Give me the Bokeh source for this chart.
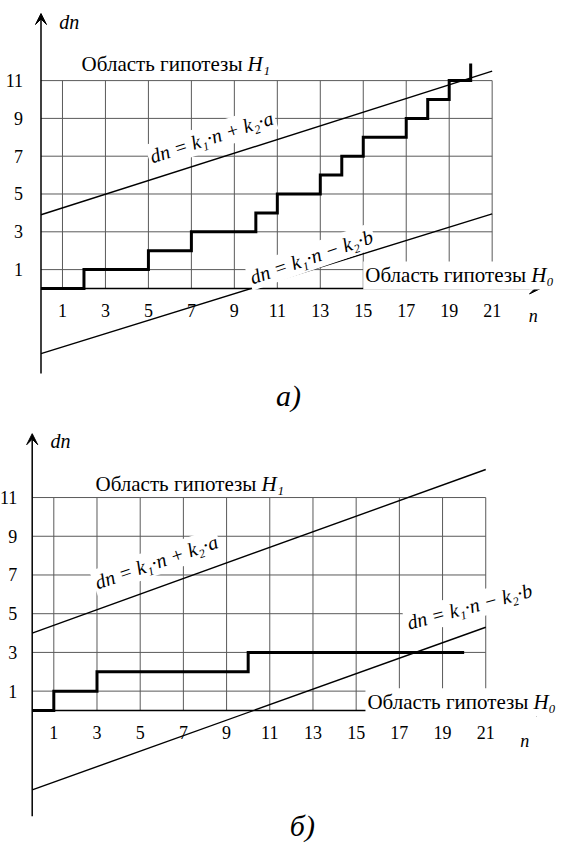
from bokeh.plotting import figure
from bokeh.models import Range1d, Label, Arrow, VeeHead
from bokeh.layouts import column
from bokeh.embed import file_html
from bokeh.resources import INLINE

# ---------------- data ----------------
n_ticks = [1, 3, 5, 7, 9, 11, 13, 15, 17, 19, 21]
dn_ticks = [1, 3, 5, 7, 9, 11]
grid_n_max = 21
grid_dn_max = 11

bound_n = [0, 21]

# chart a)
a_step_n = [0, 2, 5, 7, 10, 11, 13, 14, 15, 17, 18, 19, 20]
a_step_dn = [0, 1, 2, 3, 4, 5, 6, 7, 8, 9, 10, 11, 11.9]
a_upper_dn = [3.9, 11.5]
a_lower_dn = [-3.45, 3.95]

# chart б)
b_step_n = [0, 1, 3, 10, 20]
b_step_dn = [0, 1, 2, 3, 3]
b_upper_dn = [4.0, 12.45]
b_lower_dn = [-4.1, 4.3]

REGION_TEXT = "Область гипотезы"
H1_TEXT = "H\u2081"
H0_TEXT = "H\u2080"
UP_TEXT = "dn = k\u2081\u00b7n + k\u2082\u00b7a"
LO_TEXT = "dn = k\u2081\u00b7n \u2212 k\u2082\u00b7b"

SERIF = "Liberation Serif"
GRID = "#5a5a5a"
W = 563
H_OFFSET_PX = 166   # gap between start of "Область гипотезы" and the italic H


def chart(height, xr, yr, step_n, step_dn, up_dn, lo_dn, y_ext, x_end, y_standoff,
          labels, regions, caption):
    p = figure(width=W, height=height, x_range=Range1d(*xr), y_range=Range1d(*yr),
               output_backend="svg", toolbar_location=None, min_border=0)
    p.outline_line_color = None
    p.xgrid.visible = False
    p.ygrid.visible = False
    px_per_n = W / (xr[1] - xr[0])

    nv = len(n_ticks)
    nh = len(dn_ticks)
    p.segment(x0=n_ticks, y0=[0] * nv, x1=n_ticks, y1=[grid_dn_max] * nv,
              line_color=GRID, line_width=1)
    p.segment(x0=[0] * nh, y0=dn_ticks, x1=[grid_n_max] * nh, y1=dn_ticks,
              line_color=GRID, line_width=1)

    p.line(bound_n, up_dn, line_color="black", line_width=1.4)
    p.line(bound_n, lo_dn, line_color="black", line_width=1.4)
    p.step(step_n, step_dn, mode="after", line_color="black", line_width=3,
           line_join="miter")

    for ax, ticks in ((p.xaxis, n_ticks), (p.yaxis, dn_ticks)):
        ax.fixed_location = 0
        ax.ticker = ticks
        ax.axis_line_color = None
        ax.major_tick_line_color = None
        ax.minor_tick_line_color = None
        ax.major_label_text_font = SERIF
        ax.major_label_text_font_size = "18px"
        ax.major_label_text_color = "black"
    p.xaxis.major_label_standoff = 10
    p.yaxis.major_label_standoff = y_standoff

    p.add_layout(Arrow(end=VeeHead(size=11, fill_color="black", line_color="black"),
                       x_start=0, y_start=0, x_end=x_end, y_end=0,
                       line_color="black", line_width=1.5))
    p.add_layout(Arrow(end=VeeHead(size=11, fill_color="black", line_color="black"),
                       x_start=0, y_start=y_ext[0], x_end=0, y_end=y_ext[1],
                       line_color="black", line_width=1.5))

    def add_label(txt, x, y, ang, style, size, bg):
        lab = Label(x=x, y=y, text=txt, angle=ang, angle_units="deg",
                    text_font=SERIF, text_font_style=style, text_font_size=size,
                    text_color="black", text_align="left", text_baseline="alphabetic")
        if bg:
            lab.background_fill_color = "white"
            lab.padding = 2
        p.add_layout(lab)

    for (txt, x, y, ang, style, size, bg) in labels:
        add_label(txt, x, y, ang, style, size, bg)

    for (htxt, x, y, bg) in regions:
        add_label(REGION_TEXT + " ", x, y, 0, "normal", "21px", bg)
        add_label(htxt, x + H_OFFSET_PX / px_per_n, y, 0, "italic", "21px", bg)

    ctext, cx, cy = caption
    p.add_layout(Label(x=cx, y=cy, text=ctext, text_font=SERIF, text_font_style="italic",
                       text_font_size="30px", text_color="black",
                       text_align="center", text_baseline="middle"))
    return p


pa = chart(
    421, (-1.885, 24.32), (-7.037, 15.238),
    a_step_n, a_step_dn, a_upper_dn, a_lower_dn,
    (-4.5, 14.55), 23.25, 12,
    [
        ("dn", 0.85, 14.1, 0, "italic", "20px", False),
        ("n", 22.7, -1.45, 0, "italic", "18px", False),
        (UP_TEXT, 5.0, 6.93, 18, "italic", "20px", True),
        (LO_TEXT, 9.66, 0.53, 19, "italic", "20px", True),
    ],
    [(H1_TEXT, 1.89, 11.9, False), (H0_TEXT, 15.0, 0.69, True)],
    ("а)", 11.52, -5.66),
)

pb = chart(
    422, (-1.468, 24.60), (-6.870, 14.928),
    b_step_n, b_step_dn, b_upper_dn, b_lower_dn,
    (-5.46, 14.3), 23.84, 9,
    [
        ("dn", 0.85, 13.9, 0, "italic", "20px", False),
        ("n", 22.6, -1.55, 0, "italic", "18px", False),
        (UP_TEXT, 2.84, 6.56, 19, "italic", "20px", True),
        (LO_TEXT, 17.28, 4.49, 15, "italic", "20px", True),
    ],
    [(H1_TEXT, 2.93, 11.72, False), (H0_TEXT, 15.43, 0.43, True)],
    ("б)", 12.51, -5.94),
)

layout = column(pa, pb)
open("out.html", "w").write(file_html(layout, INLINE))
